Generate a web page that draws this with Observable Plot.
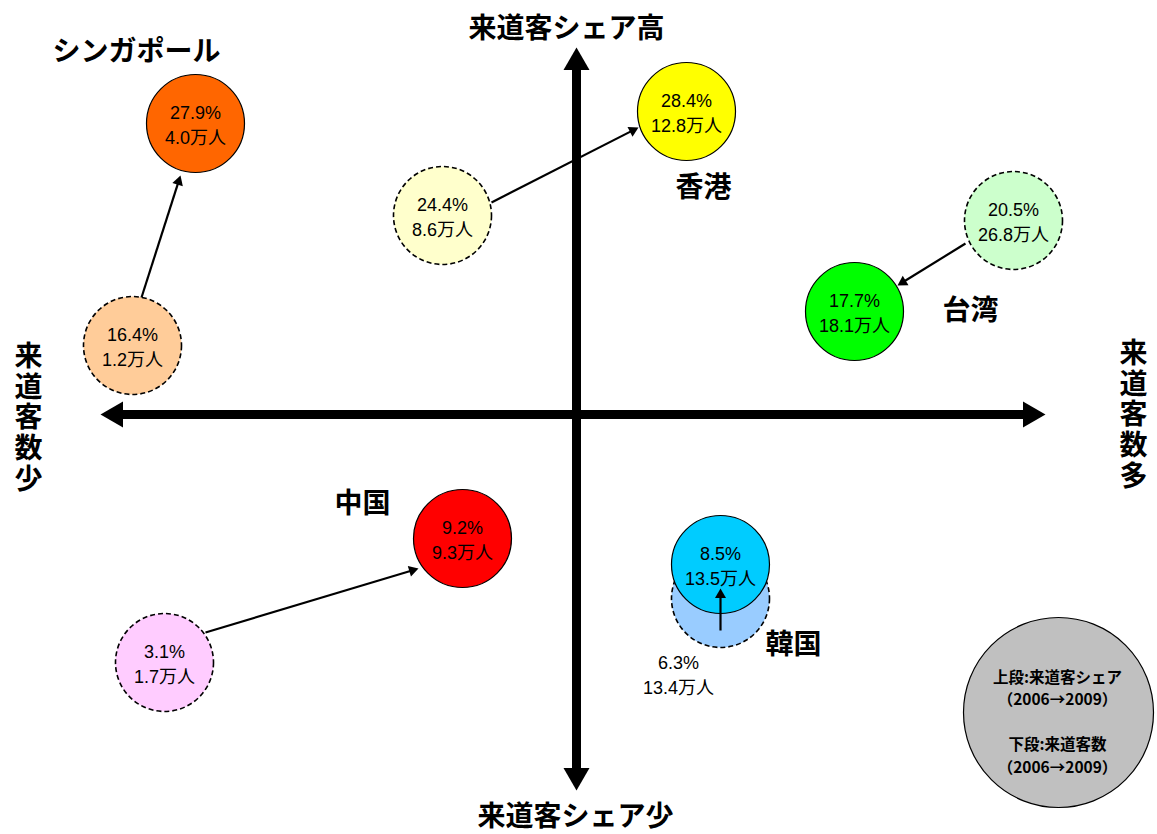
<!DOCTYPE html>
<html>
<head>
<meta charset="utf-8">
<script src="https://cdn.jsdelivr.net/npm/d3@7"></script>
<script src="https://cdn.jsdelivr.net/npm/@observablehq/plot@0.6"></script>
<style>
  html, body { margin: 0; padding: 0; background: #fff; }
  #chart svg { display: block; }
</style>
</head>
<body>
<div id="chart"></div>
<script>
// ---- Data ----
const countries = ["シンガポール", "香港", "台湾", "中国", "韓国"];
const share2006 = [16.4, 24.4, 20.5, 3.1, 6.3];      // 来道客シェア 2006 (%)
const share2009 = [27.9, 28.4, 17.7, 9.2, 8.5];      // 来道客シェア 2009 (%)
const visitors2006 = [1.2, 8.6, 26.8, 1.7, 13.4];    // 来道客数 2006 (万人)
const visitors2009 = [4.0, 12.8, 18.1, 9.3, 13.5];   // 来道客数 2009 (万人)
const color2006 = ["#FFCC99", "#FFFFCC", "#CCFFCC", "#FFCCFF", "#99CCFF"];
const color2009 = ["#FF6600", "#FFFF00", "#00FF00", "#FF0000", "#00CCFF"];

// diagram placement (map units, origin = axis crossing)
const mapX2006 = [-444, -134, 437, -412, 144];
const mapY2006 = [69, 199, 194, -248, -184];
const mapX2009 = [-381, 110, 278, -114, 144];
const mapY2009 = [291, 303, 103, -124, -150];
const arrowFromX = [-435, -85, 389, -371, 144];
const arrowFromY = [117, 212, 171, -218, -216];
const arrowToX = [-396, 62, 321, -158, 144];
const arrowToY = [239, 287, 129, -154, -174];
const labelX = [-440, 127, 394, -214, 217];
const labelY = [362, 226, 103, -90, -231];

const axisTitles = ["来道客シェア高", "来道客シェア少", "来\n道\n客\n数\n少", "来\n道\n客\n数\n多"];
const axisTitleX = [-10, -1, -548, 557];
const axisTitleY = [386, -402, -3, 0];
const axisEnds = {xMin: -476, xMax: 469, yMin: -376, yMax: 367};

const legendText = "上段:来道客シェア\n（2006→2009）\n\n下段:来道客数\n（2006→2009）";

// ---- Build tables ----
const fmt = (s, v) => `${s.toFixed(1)}%\n${v.toFixed(1)}万人`;
const old = countries.map((c, i) => ({
  country: c, x: mapX2006[i], y: mapY2006[i], fill: color2006[i],
  label: fmt(share2006[i], visitors2006[i]), korea: c === "韓国"
}));
const cur = countries.map((c, i) => ({
  country: c, x: mapX2009[i], y: mapY2009[i], fill: color2009[i],
  label: fmt(share2009[i], visitors2009[i])
}));

// small arrows: shaft + filled triangular head
const smallHead = {side: 11};
const arrows = countries.map((c, i) => {
  const x1 = arrowFromX[i], y1 = arrowFromY[i], x2 = arrowToX[i], y2 = arrowToY[i];
  const L = Math.hypot(x2 - x1, y2 - y1);
  const ux = (x2 - x1) / L, uy = (y2 - y1) / L;
  const h = smallHead.side * Math.sqrt(3) / 2;
  const cd = h * 2 / 3;
  return {
    x1, y1, x2: x2 - ux * (h - 1), y2: y2 - uy * (h - 1),
    hx: x2 - ux * cd, hy: y2 - uy * cd,
    rot: Math.atan2(ux, uy) * 180 / Math.PI
  };
});
const smallR = Math.sqrt((Math.sqrt(3) / 4 * smallHead.side ** 2) / Math.PI);

// main axes
const bigSide = 26;
const bigH = bigSide * Math.sqrt(3) / 2;
const bigCd = bigH * 2 / 3;
const bigR = Math.sqrt((Math.sqrt(3) / 4 * bigSide ** 2) / Math.PI);
const axisLines = [
  {x1: axisEnds.xMin + bigH - 2, y1: 0, x2: axisEnds.xMax - bigH + 2, y2: 0},
  {x1: 0, y1: axisEnds.yMin + bigH - 2, x2: 0, y2: axisEnds.yMax - bigH + 2}
];
const axisHeads = [
  {x: axisEnds.xMin + bigCd, y: 0, rot: -90},
  {x: axisEnds.xMax - bigCd, y: 0, rot: 90},
  {x: 0, y: axisEnds.yMax - bigCd, rot: 0},
  {x: 0, y: axisEnds.yMin + bigCd, rot: 180}
];

const titles = axisTitles.map((t, i) => ({t, x: axisTitleX[i], y: axisTitleY[i]}));
const labels = countries.map((c, i) => ({t: c, x: labelX[i], y: labelY[i]}));

const numFont = "'Liberation Sans', Arial, 'Noto Sans CJK JP', sans-serif";
const jpFont = "'Noto Sans CJK JP', 'Liberation Sans', sans-serif";

const chart = Plot.plot({
  width: 1157,
  height: 834,
  marginTop: 0, marginRight: 0, marginBottom: 0, marginLeft: 0,
  x: {domain: [-576, 581], axis: null},
  y: {domain: [-420, 414], axis: null},
  style: {background: "#fff", fontFamily: jpFont},
  marks: [
    // axes
    Plot.link(axisLines, {x1: "x1", y1: "y1", x2: "x2", y2: "y2", stroke: "#000", strokeWidth: 9}),
    Plot.dot(axisHeads, {x: "x", y: "y", symbol: "triangle", r: bigR, rotate: "rot", fill: "#000", stroke: "none"}),
    // legend circle
    Plot.dot([{x: 482, y: -298}], {x: "x", y: "y", r: 95, fill: "#C0C0C0", stroke: "#000", strokeWidth: 1.2}),
    Plot.text([legendText], {x: 481, y: -306, text: d => d, fontSize: 15.5, fontWeight: "bold", lineHeight: 1.45, fill: "#000", fontFamily: jpFont}),
    // 2006 circles (dashed)
    Plot.dot(old, {x: "x", y: "y", r: 49, fill: "fill", stroke: "#000", strokeWidth: 1.6, strokeDasharray: "5,3"}),
    Plot.text(old.filter(d => !d.korea), {x: "x", y: "y", text: "label", fontSize: 18, lineHeight: 1.42, fill: "#000", fontFamily: numFont}),
    Plot.text(old.filter(d => d.korea), {x: 102, y: -259, text: "label", fontSize: 18, lineHeight: 1.42, fill: "#000", fontFamily: numFont}),
    // 2009 circles
    Plot.dot(cur, {x: "x", y: "y", r: 49, fill: "fill", stroke: "#000", strokeWidth: 1.2}),
    Plot.text(cur, {x: "x", y: "y", text: "label", fontSize: 18, lineHeight: 1.42, fill: "#000", fontFamily: numFont}),
    // change arrows
    Plot.link(arrows, {x1: "x1", y1: "y1", x2: "x2", y2: "y2", stroke: "#000", strokeWidth: 2.2}),
    Plot.dot(arrows, {x: "hx", y: "hy", symbol: "triangle", r: smallR, rotate: "rot", fill: "#000", stroke: "none"}),
    // titles & labels
    Plot.text(titles, {x: "x", y: "y", text: "t", fontSize: 28, fontWeight: "bold", lineHeight: 1.1, fill: "#000"}),
    Plot.text(labels, {x: "x", y: "y", text: "t", fontSize: 28, fontWeight: "bold", fill: "#000"})
  ]
});
document.getElementById("chart").appendChild(chart);
</script>
</body>
</html>
